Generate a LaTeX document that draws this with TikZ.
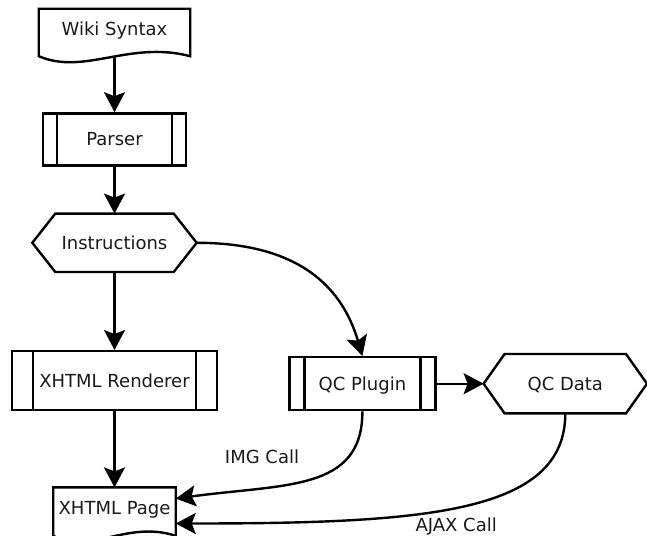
\documentclass[tikz,border=0pt]{standalone}
\usepackage{fontspec}
\setmainfont{DejaVu Sans}
\usetikzlibrary{calc,positioning,arrows.meta}
\tikzset{
  line/.style={-{Stealth[length=20pt, width=21pt, inset=4pt]}, line width=2.4pt},
  shapeline/.style={line width=2.4pt},
  box/.style={rectangle, inner sep=0pt, text height=13pt, text depth=0pt, font=\fontsize{18}{22}\selectfont, text=black!90},
  process/.style={box, draw, shapeline, path picture={
      \draw[shapeline] ([xshift=#1]path picture bounding box.north west) -- ([xshift=#1]path picture bounding box.south west);
      \draw[shapeline] ([xshift=-#1]path picture bounding box.north east) -- ([xshift=-#1]path picture bounding box.south east);}},
  process/.default=14pt,
  doc/.style={box, text depth=7pt},
  hexbox/.style={box},
  lbl/.style={font=\fontsize{18}{22}\selectfont, text=black!90, inner sep=2pt}
}
% outlines drawn round plain nodes
\newcommand{\docframe}[1]{%
  \draw[shapeline] (#1.south east)
    .. controls ([yshift=16pt]$(#1.south west)!0.6!(#1.south east)$) and ([yshift=-19.5pt]$(#1.south west)!0.3!(#1.south east)$) .. (#1.south west)
    -- (#1.north west) -- (#1.north east) -- cycle;}
\newcommand{\hexframe}[2][21pt]{%
  \draw[shapeline] (#2.west) -- ([xshift=#1]#2.north west) -- ([xshift=-#1]#2.north east) -- (#2.east)
    -- ([xshift=-#1]#2.south east) -- ([xshift=#1]#2.south west) -- cycle;}

\begin{document}
\begin{tikzpicture}
  \useasboundingbox (-114.5pt,32.5pt) rectangle (532.5pt,-502.5pt);

  \node[doc, minimum width=151pt, minimum height=47pt] (wiki) {Wiki Syntax};
  \node[process, minimum width=143pt, minimum height=52pt, below=56pt of wiki] (parser) {Parser};
  \node[hexbox, minimum width=164pt, minimum height=58pt, below=47pt of parser] (instr) {Instructions};
  \node[process=21pt, minimum width=205pt, minimum height=59pt, below=78pt of instr] (render) {XHTML Renderer};
  \node[doc, minimum width=122pt, minimum height=48pt, below=76pt of render] (page) {XHTML Page};
  \node[process=15pt, minimum width=146pt, minimum height=53pt, right=70pt of render, yshift=-3pt] (plugin) {QC Plugin};
  \node[hexbox, minimum width=163pt, minimum height=59pt, right=47pt of plugin] (qcdata) {QC Data};

  \docframe{wiki}
  \docframe{page}
  \hexframe[23pt]{instr}
  \hexframe{qcdata}

  \draw[line] (wiki) -- (parser);
  \draw[line] (parser) -- (instr);
  \draw[line] (instr) -- (render);
  \draw[line] (render) -- (page);
  \draw[line] (instr.east) .. controls +(95pt,0pt) and +(-22pt,75pt) .. (plugin.north);
  \draw[line] (plugin) -- (qcdata);
  \draw[line] (plugin.south) .. controls +(0pt,-80pt) and +(110pt,15pt) .. (page.12)
    node[lbl, pos=0.5, above left=12pt and 8pt] {IMG Call};
  \draw[line] (qcdata.south) .. controls +(0pt,-100pt) and +(250pt,0pt) .. (page.-11)
    node[lbl, pos=0.52, below=7pt] {AJAX Call};
\end{tikzpicture}
\end{document}
